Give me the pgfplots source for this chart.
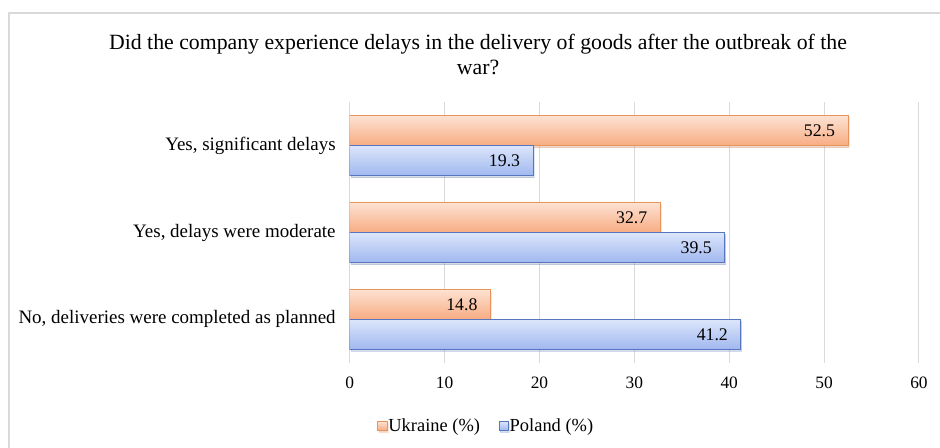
\documentclass[border=0pt]{standalone}
\usepackage{fontspec}
\setmainfont{Liberation Serif}
\usepackage{pgfplots}
\pgfplotsset{compat=1.18}
\usetikzlibrary{shadows}

\definecolor{gridgray}{HTML}{D9D9D9}
\definecolor{uaTop}{HTML}{FDE2D3}
\definecolor{uaBot}{HTML}{F7AC82}
\definecolor{uaLine}{HTML}{E8935C}
\definecolor{plTop}{HTML}{DCE5FB}
\definecolor{plBot}{HTML}{A0B8EF}
\definecolor{plLine}{HTML}{5677C0}

\tikzset{
  ua/.style={bar shift=11.25pt, draw=uaLine, top color=uaTop, bottom color=uaBot,
    drop shadow={shadow xshift=0.8pt, shadow yshift=-1.5pt, opacity=0.2}},
  pl/.style={bar shift=-11.25pt, draw=plLine, top color=plTop, bottom color=plBot,
    drop shadow={shadow xshift=0.8pt, shadow yshift=-1.5pt, opacity=0.2}},
}

\begin{document}
\begin{tikzpicture}[font=\fontsize{13}{15.6}\selectfont]
% 1px = 0.75pt, axis box lower-left at (0,0)
\path[use as bounding box] (-261.75pt,-63.75pt) rectangle (441.75pt,271.5pt);
\draw[gridgray, line width=1.5pt] (-255pt,-70pt) -- (-255pt,261.75pt) -- (450pt,261.75pt);

\begin{axis}[
    at={(0,0)}, anchor=south west,
    scale only axis,
    width=426pt, height=195pt,
    xbar,
    bar width=22.5pt,
    xmin=0, xmax=60,
    ymin=-0.5, ymax=2.5,
    xtick={0,10,...,60},
    ytick={0,1,2},
    yticklabels={{No, deliveries were completed as planned},{Yes, delays were moderate},{Yes, significant delays}},
    major tick length=0pt,
    axis lines*=left,
    x axis line style={draw=none},
    y axis line style={gridgray, line width=0.75pt},
    xmajorgrids,
    grid style={gridgray, line width=0.75pt},
    xticklabel style={yshift=-7pt},
    yticklabel style={xshift=-7pt, font=\fontsize{14.2}{17}\selectfont},
    /pgf/number format/assume math mode=true,
    point meta=x,
    nodes near coords,
    nodes near coords style={/pgf/number format/fixed, /pgf/number format/fixed zerofill, /pgf/number format/precision=1},
    every node near coord/.append style={anchor=east, xshift=-6pt, font=\fontsize{13.3}{16}\selectfont},
    legend style={at={(0.2394,-0.242)}, anchor=center, draw=none, fill=none,
        legend columns=-1, font=\fontsize{13.8}{16.5}\selectfont,
        /tikz/every even column/.append style={column sep=13pt},
        nodes={inner xsep=1pt}},
    legend image code/.code={\draw[#1] (0pt,-3.4pt) rectangle (6.8pt,3.4pt);},
]
% Yes, significant delays
\addplot[ua] coordinates {(52.5,2)};
\addplot[pl] coordinates {(19.3,2)};
% Yes, delays were moderate
\addplot[ua, forget plot] coordinates {(32.7,1)};
\addplot[pl, forget plot] coordinates {(39.5,1)};
% No, deliveries were completed as planned
\addplot[ua, forget plot] coordinates {(14.8,0)};
\addplot[pl, forget plot] coordinates {(41.2,0)};
\legend{Ukraine (\%), Poland (\%)}
\end{axis}

\node[align=center, font=\fontsize{16.3}{18.75}\selectfont] at (96pt,231pt)
    {Did the company experience delays in the delivery of goods after the outbreak of the\\war?};
\end{tikzpicture}
\end{document}
